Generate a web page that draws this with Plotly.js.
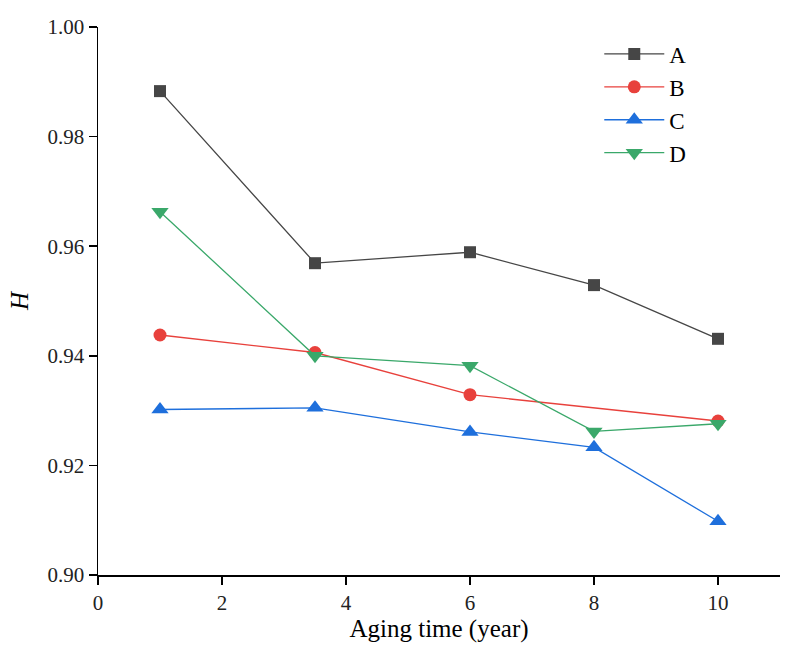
<!DOCTYPE html>
<html>
<head>
<meta charset="utf-8">
<script src="https://cdn.plot.ly/plotly-3.0.1.min.js"></script>
<style>
html,body{margin:0;padding:0;background:#fff;}
#chart{width:792px;height:654px;}
</style>
</head>
<body>
<div id="chart"></div>
<script>
const xA = [1, 3.5, 6, 8, 10];
const yA = [0.9883, 0.9569, 0.9589, 0.9529, 0.9431];
const xB = [1, 3.5, 6, 10];
const yB = [0.9438, 0.9406, 0.9329, 0.9281];
const xC = [1, 3.5, 6, 8, 10];
const yC = [0.9302, 0.9305, 0.9261, 0.9233, 0.9098];
const xD = [1, 3.5, 6, 8, 10];
const yD = [0.9663, 0.9400, 0.9382, 0.9262, 0.9276];
const names = ['A', 'B', 'C', 'D'];
const colors = ['#464646', '#e8413c', '#1e6fdc', '#3aa86a'];
const symbols = ['square', 'circle', 'triangle-up', 'triangle-down'];
const sizes = [12, 13, 15, 15];
const xTicks = [0, 2, 4, 6, 8, 10];
const xTickText = ['0', '2', '4', '6', '8', '10'];
const yTicks = [0.90, 0.92, 0.94, 0.96, 0.98, 1.00];
const yTickText = ['0.90', '0.92', '0.94', '0.96', '0.98', '1.00'];

const xs = [xA, xB, xC, xD], ys = [yA, yB, yC, yD];
const traces = names.map((n, i) => ({
  x: xs[i], y: ys[i], name: n, type: 'scatter', mode: 'lines+markers',
  line: {color: colors[i], width: 1.3},
  marker: {symbol: symbols[i], color: colors[i], size: sizes[i]}
}));

const fam = 'Liberation Serif';
const wrap = t => '<span style="font-family:Liberation Serif;font-size:21px">' + t + '</span>';
const tf = {family: fam, size: 21, color: '#222'};
const layout = {
  width: 792, height: 654,
  margin: {l: 98, r: 12, t: 27, b: 79},
  paper_bgcolor: '#fff', plot_bgcolor: '#fff',
  font: {family: fam, size: 21, color: '#222'},
  showlegend: true,
  legend: {x: 0.735, y: 0.99, xanchor: 'left', yanchor: 'top', bgcolor: 'rgba(0,0,0,0)',
    font: {family: fam, size: 23, color: '#000'}, itemwidth: 60, tracegroupgap: 0},
  xaxis: {
    range: [0, 11], tickmode: 'array', tickvals: xTicks, ticktext: xTickText.map(wrap),
    showgrid: false, zeroline: false, showline: true, linecolor: '#000', linewidth: 1.5,
    ticks: 'outside', ticklen: 8, tickwidth: 1.5, tickcolor: '#000',
    tickfont: tf,
    title: {text: 'Aging time (year)', font: {family: fam, size: 25, color: '#000'}, standoff: 6}
  },
  yaxis: {
    range: [0.90, 1.00], tickmode: 'array', tickvals: yTicks, ticktext: yTickText.map(wrap),
    showgrid: false, zeroline: false, showline: true, linecolor: '#000', linewidth: 1.5,
    ticks: 'outside', ticklen: 8, tickwidth: 1.5, tickcolor: '#000',
    tickfont: tf,
    title: {text: '<i>H</i>', font: {family: fam, size: 25, color: '#000'}, standoff: 12}
  }
};
Plotly.newPlot('chart', traces, layout, {displayModeBar: false, staticPlot: true});
</script>
</body>
</html>
